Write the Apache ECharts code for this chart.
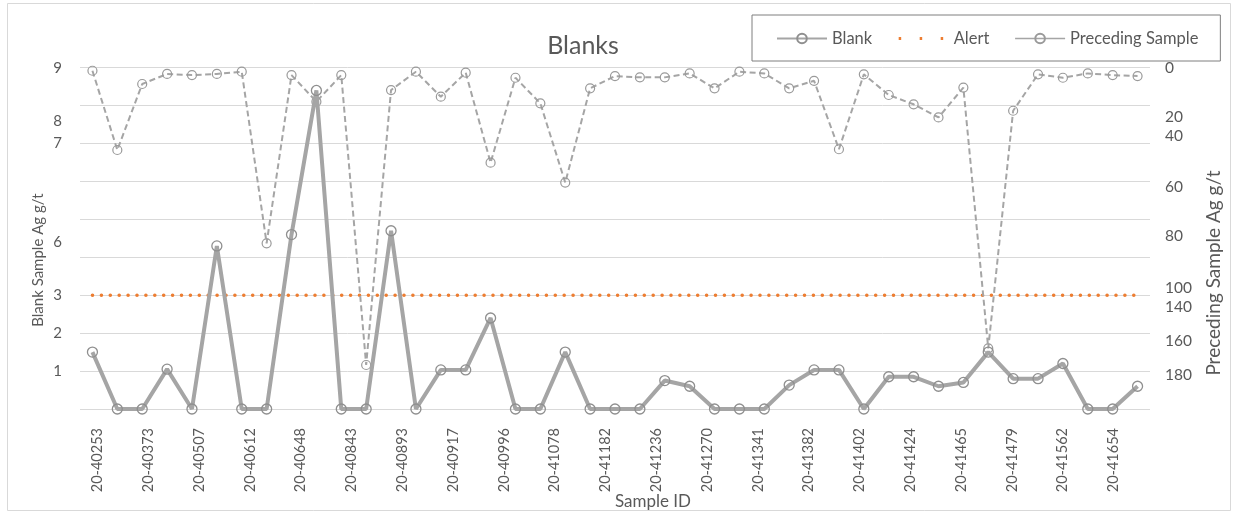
<!DOCTYPE html>
<html>
<head>
<meta charset="utf-8">
<script src="https://cdn.jsdelivr.net/npm/echarts@6/dist/echarts.min.js"></script>
<style>
html,body{margin:0;padding:0;background:#fff;}
#chart{width:1239px;height:516px;}
</style>
</head>
<body>
<div id="chart"></div>
<script>
// ---- data ----
const sampleIds = ['20-40253','20-40373','20-40507','20-40612','20-40648','20-40843','20-40893','20-40917','20-40996','20-41078','20-41182','20-41236','20-41270','20-41341','20-41382','20-41402','20-41424','20-41465','20-41479','20-41562','20-41654'];
const blankValues = [1.5,0,0,1.05,0,4.3,0,0,4.6,8.4,0,0,4.7,0,1.03,1.03,2.4,0,0,1.5,0,0,0,0.75,0.6,0,0,0,0.63,1.03,1.03,0,0.85,0.85,0.6,0.7,1.5,0.8,0.8,1.2,0,0,0.6];
const precedingValues = [1.6,43.4,8.6,3.3,3.9,3.3,2.1,92.6,3.9,17.9,3.9,156.8,11.8,2.1,15.3,2.6,50.1,5.3,18.8,60.6,10.9,4.4,5.1,5.1,3.0,10.9,2.1,3.0,10.9,6.9,43.0,3.5,14.4,19.3,26.2,10.5,148,22.7,3.5,5.3,3.0,3.9,4.4];
const alertLevel = 3;
// tick labels as printed on the chart: axis position -> text
const leftTickLabels = {90:'9', 76:'8', 70:'7', 44:'6', 30:'3', 20:'2', 10:'1'};   // key = value*10
const rightTickLabels = {0:'0', 26:'20', 36:'40', 63:'60', 89:'80', 116:'100', 126:'140', 144:'160', 162:'180'};

// one slot per plotted sample; named slots every second position
const categories = blankValues.map((_, i) => (i % 2 === 0 && sampleIds[i / 2]) ? sampleIds[i / 2] : '');
const alertValues = blankValues.map(() => alertLevel);

const FONT = 'Lato, "DejaVu Sans", sans-serif';
const TXT = '#595959';
const GRID_TOP = 67.7, GRID_BOTTOM = 107, GRID_LEFT = 80, GRID_RIGHT = 89;

const chart = echarts.init(document.getElementById('chart'), null, {renderer: 'canvas'});
chart.setOption({
  animation: false,
  backgroundColor: '#fff',
  textStyle: {fontFamily: FONT},
  title: {
    text: 'Blanks', left: 578, top: 28, textAlign: 'center',
    textStyle: {fontFamily: FONT, fontSize: 25, fontWeight: 'normal', color: TXT}
  },
  legend: {
    left: 752, top: 15,
    padding: [15, 22, 14, 24],
    borderColor: '#7f7f7f', borderWidth: 1, backgroundColor: '#fff',
    itemWidth: 50, itemHeight: 12, itemGap: 25,
    textStyle: {fontFamily: FONT, fontSize: 16.5, color: TXT},
    data: [
      {name: 'Blank'},
      {name: 'Alert', itemStyle: {opacity: 0}, lineStyle: {type: [2.5, 18.5], width: 3, cap: 'butt'}},
      {name: 'Preceding Sample', lineStyle: {type: 'solid', width: 1.5}}
    ]
  },
  graphic: [
    {type: 'rect', z: -10, silent: true, shape: {x: 7.5, y: 3.5, width: 1223, height: 507},
     style: {fill: 'none', stroke: '#d9d9d9', lineWidth: 1}},
    {type: 'text', x: 38.5, y: 260, rotation: Math.PI / 2,
     style: {text: 'Blank Sample Ag g/t', fontFamily: FONT, fontSize: 15, fill: TXT, textAlign: 'center', textVerticalAlign: 'middle'}},
    {type: 'text', x: 1214, y: 273, rotation: Math.PI / 2,
     style: {text: 'Preceding Sample Ag g/t', fontFamily: FONT, fontSize: 19, fill: TXT, textAlign: 'center', textVerticalAlign: 'middle'}},
    {type: 'text', x: 653, y: 502,
     style: {text: 'Sample ID', fontFamily: FONT, fontSize: 17, fill: TXT, textAlign: 'center', textVerticalAlign: 'middle'}}
  ],
  grid: [
    {left: GRID_LEFT, right: GRID_RIGHT, top: GRID_TOP, bottom: GRID_BOTTOM, containLabel: false},
    {left: 72.1, right: 100.1, top: GRID_TOP, bottom: GRID_BOTTOM, containLabel: false}
  ],
  xAxis: [
    {type: 'category', gridIndex: 0, data: categories, boundaryGap: true,
     axisLine: {show: false}, axisTick: {show: false}, axisLabel: {show: false}, splitLine: {show: false}},
    {type: 'category', gridIndex: 1, data: sampleIds, boundaryGap: true,
     axisLine: {show: false}, axisTick: {show: false}, splitLine: {show: false},
     axisLabel: {rotate: 90, margin: 19, interval: 0, fontFamily: FONT, fontSize: 14.5, color: TXT}}
  ],
  yAxis: [
    {type: 'value', gridIndex: 0, position: 'left', min: 0, max: 9, interval: 1,
     axisLine: {show: false}, axisTick: {show: false}, axisLabel: {show: false},
     splitLine: {show: true, lineStyle: {color: '#d9d9d9', width: 1}}},
    {type: 'value', gridIndex: 0, position: 'left', min: 0, max: 9, interval: 0.1,
     axisLine: {show: false}, axisTick: {show: false}, splitLine: {show: false},
     axisLabel: {margin: 18, fontFamily: FONT, fontSize: 15, color: TXT,
       formatter: v => leftTickLabels[Math.round(v * 10)] || ''}},
    {type: 'value', gridIndex: 0, position: 'right', min: 0, max: 180, interval: 1, inverse: true,
     axisLine: {show: false}, axisTick: {show: false}, splitLine: {show: false},
     axisLabel: {margin: 15, fontFamily: FONT, fontSize: 15.5, color: TXT,
       formatter: v => rightTickLabels[Math.round(v)] || ''}},
    {type: 'value', gridIndex: 1, show: false, min: 0, max: 1}
  ],
  series: [
    {
      name: 'Alert', type: 'line', xAxisIndex: 0, yAxisIndex: 0,
      data: alertValues, symbol: 'none', z: 2,
      lineStyle: {color: '#ED7D31', width: 3.5, type: [0.1, 8.8], cap: 'round'},
      itemStyle: {color: '#ED7D31'}
    },
    {
      name: 'Preceding Sample', type: 'line', xAxisIndex: 0, yAxisIndex: 2,
      data: precedingValues, symbol: 'circle', symbolSize: 9, z: 3,
      lineStyle: {color: '#a5a5a5', width: 2, type: [6, 3.5]},
      itemStyle: {color: 'rgba(255,255,255,0)', borderColor: '#9a9a9a', borderWidth: 1.2}
    },
    {
      name: 'Blank', type: 'line', xAxisIndex: 0, yAxisIndex: 0,
      data: blankValues, symbol: 'circle', symbolSize: 10, z: 4,
      lineStyle: {color: '#a5a5a5', width: 4},
      itemStyle: {color: 'rgba(255,255,255,0)', borderColor: '#8f8f8f', borderWidth: 1.3}
    }
  ]
});
</script>
</body>
</html>
